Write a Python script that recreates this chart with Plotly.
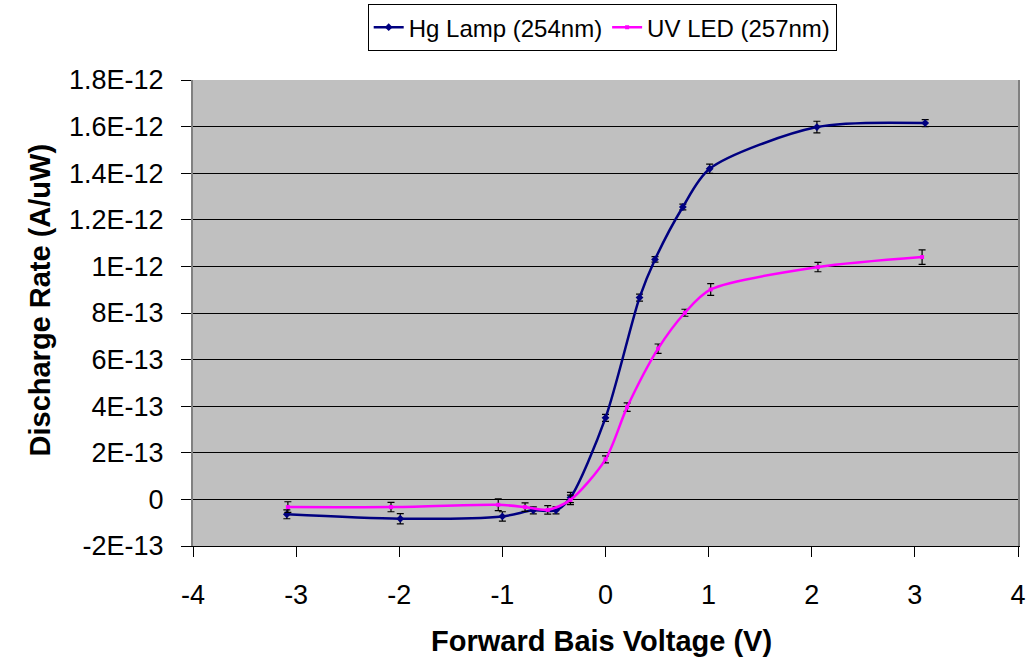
import plotly.graph_objects as go

# Data (y in A/uW)
hg_x = [-3.09, -1.99, -1.00, -0.70, -0.48, -0.34, 0.00, 0.33, 0.48, 0.75, 1.01, 2.05, 3.10]
hg_y = [-0.64e-13, -0.83e-13, -0.73e-13, -0.47e-13, -0.47e-13, 0.08e-13, 3.50e-13,
        8.66e-13, 10.30e-13, 12.55e-13, 14.19e-13, 15.98e-13, 16.15e-13]
hg_err = [0.19e-13, 0.22e-13, 0.20e-13, 0.15e-13, 0.15e-13, 0.22e-13, 0.15e-13,
          0.15e-13, 0.12e-13, 0.12e-13, 0.20e-13, 0.25e-13, 0.15e-13]

uv_x = [-3.08, -2.08, -1.04, -0.78, -0.56, -0.34, 0.00, 0.21, 0.51, 0.77, 1.02, 2.06, 3.07]
uv_y = [-0.33e-13, -0.33e-13, -0.23e-13, -0.33e-13, -0.45e-13, -0.02e-13, 1.72e-13,
        3.96e-13, 6.47e-13, 8.01e-13, 9.01e-13, 9.97e-13, 10.40e-13]
uv_err = [0.23e-13, 0.20e-13, 0.25e-13, 0.18e-13, 0.18e-13, 0.20e-13, 0.15e-13,
          0.18e-13, 0.20e-13, 0.15e-13, 0.25e-13, 0.20e-13, 0.31e-13]

y_tickvals = [-2e-13, 0, 2e-13, 4e-13, 6e-13, 8e-13, 1e-12, 1.2e-12, 1.4e-12, 1.6e-12, 1.8e-12]
y_ticktext = ["-2E-13", "0", "2E-13", "4E-13", "6E-13", "8E-13", "1E-12",
              "1.2E-12", "1.4E-12", "1.6E-12", "1.8E-12"]
x_tickvals = [-4, -3, -2, -1, 0, 1, 2, 3, 4]
x_ticktext = ["-4", "-3", "-2", "-1", "0", "1", "2", "3", "4"]

FONT = "Liberation Sans, Arial, sans-serif"

fig = go.Figure()
fig.add_trace(go.Scatter(
    x=hg_x, y=hg_y, mode="lines+markers", name="Hg Lamp (254nm)",
    line=dict(color="#000080", width=2.5, shape="spline", smoothing=0.8),
    marker=dict(symbol="diamond", size=6, color="#000080"),
    error_y=dict(type="data", array=hg_err, visible=True, color="black", thickness=1.2, width=3.5),
))
fig.add_trace(go.Scatter(
    x=uv_x, y=uv_y, mode="lines+markers", name="UV LED (257nm)",
    line=dict(color="#FF00FF", width=2.5, shape="spline", smoothing=0.8),
    marker=dict(symbol="square", size=4, color="#FF00FF"),
    error_y=dict(type="data", array=uv_err, visible=True, color="black", thickness=1.2, width=3.5),
))

fig.update_layout(
    width=1032, height=662,
    margin=dict(l=193, r=14, t=80, b=116, autoexpand=False),
    paper_bgcolor="white",
    plot_bgcolor="#C0C0C0",
    font=dict(family=FONT, size=26, color="black"),
    showlegend=True,
    legend=dict(
        orientation="h", x=0.496, xanchor="center", y=1.163, yanchor="top",
        bgcolor="white", bordercolor="black", borderwidth=1,
        font=dict(family=FONT, size=24, color="black"),
        itemwidth=30, tracegroupgap=0,
    ),
    xaxis=dict(
        range=[-4, 4], tickmode="array", tickvals=x_tickvals, ticktext=x_ticktext,
        ticks="outside", ticklen=10, tickcolor="black", tickwidth=1,
        ticklabelstandoff=15,
        showgrid=False, zeroline=False,
        showline=True, linecolor="black", linewidth=1, mirror=False,
        tickfont=dict(family=FONT, size=27),
    ),
    yaxis=dict(
        range=[-2e-13, 1.8e-12], tickmode="array", tickvals=y_tickvals, ticktext=y_ticktext,
        ticks="outside", ticklen=10, tickcolor="black", tickwidth=1,
        ticklabelstandoff=12,
        showgrid=True, gridcolor="black", gridwidth=1, zeroline=False,
        showline=True, linecolor="#808080", linewidth=2, mirror=True,
        tickfont=dict(family=FONT, size=27),
    ),
    annotations=[
        dict(text="<b>Forward Bais Voltage (V)</b>", xref="paper", yref="paper",
             x=0.495, y=-0.204, xanchor="center", yanchor="middle", showarrow=False,
             font=dict(family=FONT, size=29, color="black")),
        dict(text="<b>Discharge Rate (A/uW)</b>", xref="paper", yref="paper",
             x=-0.186, y=0.528, xanchor="center", yanchor="middle", showarrow=False,
             textangle=-90, font=dict(family=FONT, size=29, color="black")),
    ],
)

fig.write_html("out.html")
